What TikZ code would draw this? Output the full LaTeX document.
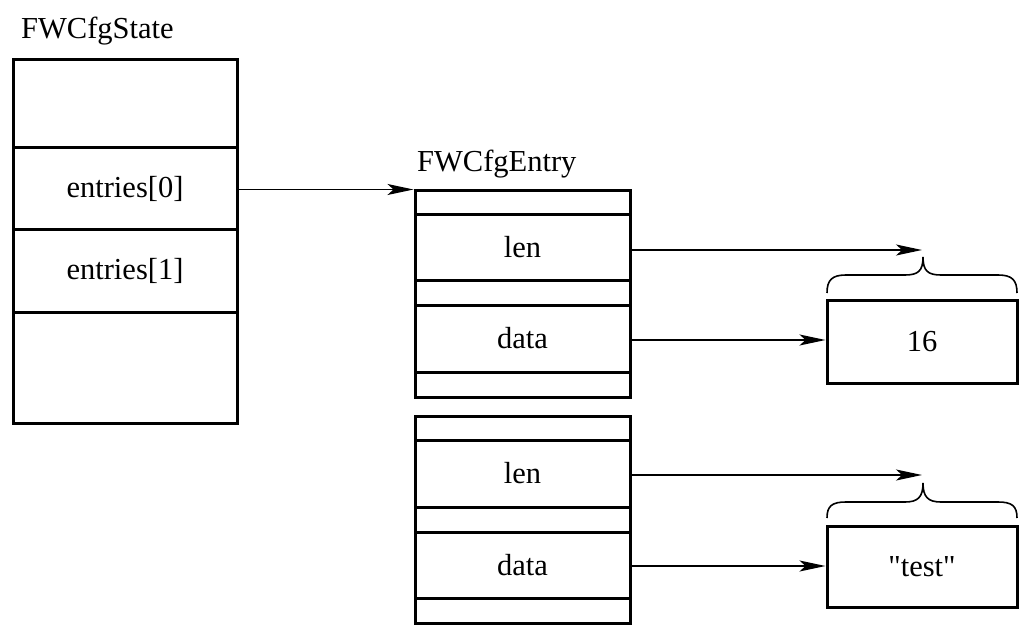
\documentclass[tikz,border=0pt]{standalone}
\usepackage{fontspec}
\setmainfont{Liberation Serif}
\newfontfamily\plainserif{Liberation Serif}
\usetikzlibrary{arrows.meta}
\tikzset{
  cell/.style={draw, line width=3pt, inner sep=0pt, font=\fontsize{30.5}{36}\selectfont},
  lbl/.style={inner sep=0pt, anchor=base west, font=\fontsize{30.5}{36}\selectfont},
  arr/.style={line width=1.5pt, -{Stealth[length=26pt,width=11pt,inset=6pt]}},
  brc/.style={line width=1.6pt}
}
\begin{document}
\begin{tikzpicture}[x=1pt,y=-1pt]
\useasboundingbox (0,0) rectangle (1027,636);
% FWCfgState
\node[lbl] (stl) at (21,39) {FWCfgState};
\node[cell, minimum width=224pt, minimum height=88pt] (s0) at (125,104) {};
\node[cell, minimum width=224pt, minimum height=82pt] (s1) at (125,189) {entries[0]};
\node[cell, minimum width=224pt, minimum height=82pt] (s2) at (125,271) {entries[1]};
\node[cell, minimum width=224pt, minimum height=111pt] (s3) at (125,367.5) {};
% FWCfgEntry 0
\node[lbl] (etl) at (417,172) {FWCfgEntry};
\node[cell, minimum width=215pt, minimum height=24pt] (a0) at (522.5,203) {};
\node[cell, minimum width=215pt, minimum height=65pt] (alen) at (522.5,247.5) {len};
\node[cell, minimum width=215pt, minimum height=25pt] (a2) at (522.5,292.5) {};
\node[cell, minimum width=215pt, minimum height=67pt] (adata) at (522.5,338.5) {data};
\node[cell, minimum width=215pt, minimum height=25pt] (a4) at (522.5,384.5) {};
% FWCfgEntry 1
\node[cell, minimum width=215pt, minimum height=24pt] (b0) at (522.5,428) {};
\node[cell, minimum width=215pt, minimum height=67pt] (blen) at (522.5,473.5) {len};
\node[cell, minimum width=215pt, minimum height=25pt] (b2) at (522.5,519.5) {};
\node[cell, minimum width=215pt, minimum height=66pt] (bdata) at (522.5,565) {data};
\node[cell, minimum width=215pt, minimum height=25pt] (b4) at (522.5,610.5) {};
% value boxes
\node[cell, minimum width=190pt, minimum height=83pt] (v1) at (922,341.5) {16};
\node[cell, minimum width=190pt, minimum height=81pt] (v2) at (922,566.5) {\plainserif "test"};
% braces
\coordinate (t1) at (923,257);
\coordinate (t2) at (923,483);
\draw[brc] (827,293) .. controls (827,280) and (832,275) .. (846,275) -- (905,275)
  .. controls (918,275) and (923,271) .. (t1)
  .. controls (923,271) and (928,275) .. (941,275) -- (998,275)
  .. controls (1012,275) and (1017,280) .. (1017,293);
\draw[brc] (827,518) .. controls (827,506) and (832,502) .. (846,502) -- (905,502)
  .. controls (918,502) and (923,497) .. (t2)
  .. controls (923,497) and (928,502) .. (941,502) -- (998,502)
  .. controls (1012,502) and (1017,506) .. (1017,518);
% arrows
\coordinate (ta1) at (922,250);
\coordinate (ta2) at (922,475);
\draw[arr] (s1.east |- a0.north west) -- (a0.north west);
\draw[arr] (alen.east |- ta1) -- (ta1);
\draw[arr] (adata.east |- 0,340) -- (v1.west |- 0,340);
\draw[arr] (blen.east |- ta2) -- (ta2);
\draw[arr] (bdata.east |- 0,566) -- (v2.west |- 0,566);
\end{tikzpicture}
\end{document}
